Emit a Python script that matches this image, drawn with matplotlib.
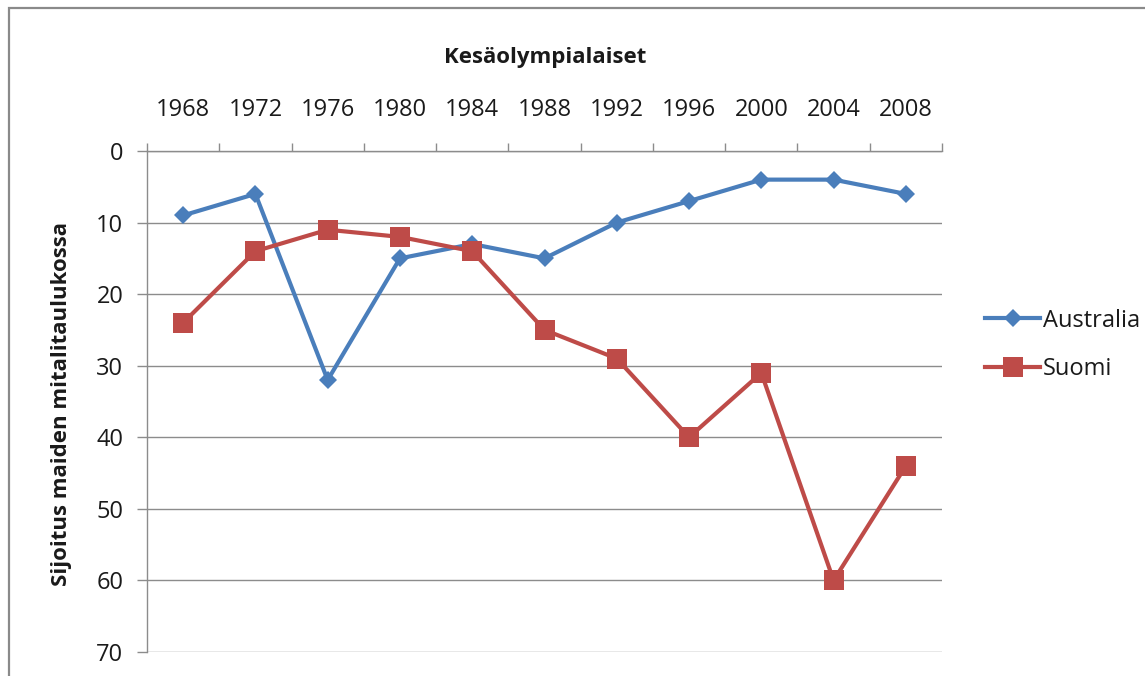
import matplotlib
matplotlib.use("Agg")
import matplotlib.pyplot as plt
from matplotlib.patches import Rectangle
from matplotlib.ticker import FixedLocator, NullFormatter, FixedFormatter

years = ["1968", "1972", "1976", "1980", "1984", "1988", "1992", "1996", "2000", "2004", "2008"]
australia = [9, 6, 32, 15, 13, 15, 10, 7, 4, 4, 6]
suomi = [24, 14, 11, 12, 14, 25, 29, 40, 31, 60, 44]

title = "Kesäolympialaiset"
ylabel = "Sijoitus maiden mitalitaulukossa"

plt.rcParams['font.family'] = ['Open Sans', 'DejaVu Sans']

W, H = 1145, 676
fig = plt.figure(figsize=(W / 100, H / 100), dpi=100)

def fx(px):
    return px / W

def fy(py):
    return 1 - py / H

# outer frame
fig.patches.append(Rectangle((fx(9), fy(700)), fx(1200), 692 / H, transform=fig.transFigure,
                             fill=False, edgecolor="#8a8a8a", linewidth=1.6))

ax = fig.add_axes([fx(147), fy(652), fx(942) - fx(147), (652 - 151) / H])

blue = "#4A7EBB"
red = "#BE4B48"
grid_c = "#8c8c8c"

x = list(range(len(years)))
ax.plot(x, australia, color=blue, linewidth=3, marker="D", markersize=9.5,
        markeredgewidth=0, label="Australia", solid_joinstyle="round", zorder=3)
ax.plot(x, suomi, color=red, linewidth=3, marker="s", markersize=14.5,
        markeredgewidth=0, label="Suomi", solid_joinstyle="round", zorder=3)

ax.set_xlim(-0.5, len(years) - 0.5)
ax.set_ylim(70, 0)

ax.xaxis.tick_top()
ax.xaxis.set_major_locator(FixedLocator([i - 0.5 for i in range(len(years) + 1)]))
ax.xaxis.set_major_formatter(NullFormatter())
ax.xaxis.set_minor_locator(FixedLocator(x))
ax.xaxis.set_minor_formatter(FixedFormatter(years))
ax.tick_params(axis="x", which="major", direction="out", length=6, width=1, color=grid_c)
ax.tick_params(axis="x", which="minor", length=0, pad=21, labelsize=17, labelcolor="#1a1a1a")

ax.set_yticks(range(0, 71, 10))
ax.tick_params(axis="y", direction="out", length=7, width=1, color=grid_c, pad=10,
               labelsize=17, labelcolor="#1a1a1a")
ax.yaxis.grid(True, color=grid_c, linewidth=1)
ax.set_axisbelow(True)

for s in ["right", "bottom"]:
    ax.spines[s].set_visible(False)
for s in ["left", "top"]:
    ax.spines[s].set_color(grid_c)
    ax.spines[s].set_linewidth(1)

fig.text(fx(545), fy(58), title, ha="center", va="center", fontsize=16, fontweight="bold",
         color="#1a1a1a")
fig.text(fx(62), fy(404), ylabel, ha="center", va="center", rotation=90, fontsize=16,
         fontweight="bold", color="#1a1a1a")

fig.legend(loc="center left", bbox_to_anchor=(fx(976), fy(345)), frameon=False,
           fontsize=17, handlelength=2.3, handletextpad=0.15, labelspacing=1.05,
           borderaxespad=0, labelcolor="#1a1a1a")

fig.savefig("out.png", dpi=100)
